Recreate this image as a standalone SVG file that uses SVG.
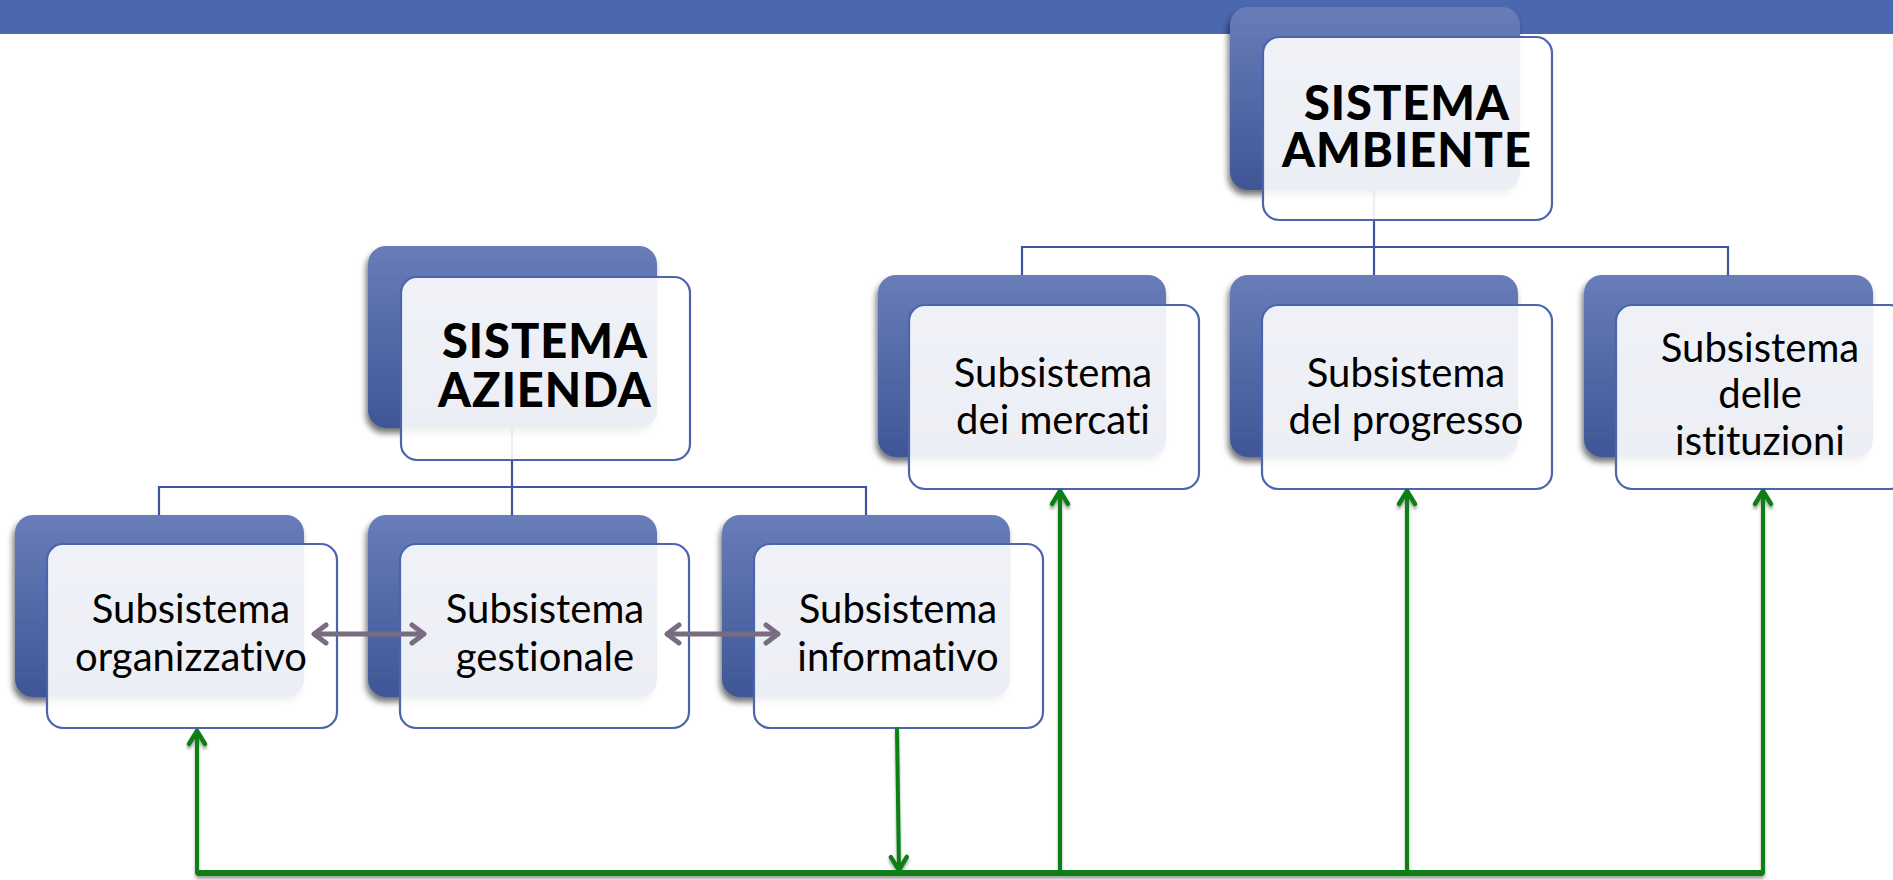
<svg xmlns="http://www.w3.org/2000/svg" width="1893" height="880" viewBox="0 0 1893 880">
<defs>
<linearGradient id="backGrad" x1="0" y1="0" x2="0" y2="1">
<stop offset="0" stop-color="#687db9"/>
<stop offset="1" stop-color="#3f5696"/>
</linearGradient>
<filter id="sh" x="-20%" y="-20%" width="140%" height="150%">
<feGaussianBlur in="SourceAlpha" stdDeviation="3"/>
<feOffset dx="-2" dy="5" result="b"/>
<feComponentTransfer><feFuncA type="linear" slope="0.55"/></feComponentTransfer>
<feMerge><feMergeNode/><feMergeNode in="SourceGraphic"/></feMerge>
</filter>
<filter id="lsh" x="-5%" y="-5%" width="110%" height="110%">
<feGaussianBlur in="SourceAlpha" stdDeviation="1.5"/>
<feOffset dx="0" dy="3"/>
<feComponentTransfer><feFuncA type="linear" slope="0.35"/></feComponentTransfer>
<feMerge><feMergeNode/><feMergeNode in="SourceGraphic"/></feMerge>
</filter>
<marker id="gray" markerUnits="userSpaceOnUse" viewBox="-16 -12 20 24" refX="0" refY="0" markerWidth="20" markerHeight="24" orient="auto-start-reverse" overflow="visible">
<path d="M-12 -9 L0 0 L-12 9" fill="none" stroke="#7a6c80" stroke-width="5" stroke-linecap="round" stroke-linejoin="round"/>
</marker>
<marker id="green" markerUnits="userSpaceOnUse" viewBox="-16 -12 20 24" refX="0" refY="0" markerWidth="20" markerHeight="24" orient="auto" overflow="visible">
<path d="M-13 -8 L0 0 L-13 8" fill="none" stroke="#0b7f12" stroke-width="4.5" stroke-linecap="round" stroke-linejoin="round"/>
</marker>
</defs>
<style>
.back{fill:url(#backGrad);filter:url(#sh)}
.front{fill:#ffffff;fill-opacity:0.9;stroke:#4a64ad;stroke-width:2.2}
.conn{fill:none;stroke:#3c55a0;stroke-width:2.2}
.t{font-family:Lato,"Liberation Sans",sans-serif;font-size:40px;fill:#000;text-anchor:middle;font-variant-ligatures:none;font-feature-settings:"liga" 0}
.h{font-family:Lato,"Liberation Sans",sans-serif;font-size:47px;font-weight:900;fill:#000;text-anchor:middle;letter-spacing:1px;font-variant-ligatures:none}
.gline{fill:none;stroke:#0b7f12;stroke-width:4;stroke-linecap:round}
.garr{fill:none;stroke:#7a6c80;stroke-width:5}
</style>
<rect x="0" y="0" width="1893" height="34" fill="#4a67b0"/>

<g id="connectors">
<path class="conn" d="M1374 190 V247 M1022 275 V247 H1728 V275 M1374 247 V275"/>
<path class="conn" d="M512 428 V487 M159 515 V487 H866 V515 M512 487 V515"/>
</g>

<g id="sistema-ambiente">
<rect class="back" x="1230" y="7" width="290" height="183" rx="18"/>
<rect class="front" x="1263" y="37" width="289" height="183" rx="16"/>
<text class="h"><tspan x="1407" y="120">SISTEMA</tspan><tspan x="1407" y="167">AMBIENTE</tspan></text>
</g>

<g id="sistema-azienda">
<rect class="back" x="368" y="246" width="289" height="182" rx="18"/>
<rect class="front" x="401" y="277" width="289" height="183" rx="16"/>
<text class="h"><tspan x="545" y="358">SISTEMA</tspan><tspan x="545" y="407">AZIENDA</tspan></text>
</g>

<g id="subsistema-mercati">
<rect class="back" x="878" y="275" width="288" height="182" rx="18"/>
<rect class="front" x="909" y="305" width="290" height="184" rx="16"/>
<text class="t"><tspan x="1053" y="387">Subsistema</tspan><tspan x="1053" y="434">dei mercati</tspan></text>
</g>

<g id="subsistema-progresso">
<rect class="back" x="1230" y="275" width="288" height="182" rx="18"/>
<rect class="front" x="1262" y="305" width="290" height="184" rx="16"/>
<text class="t"><tspan x="1406" y="387">Subsistema</tspan><tspan x="1406" y="434">del progresso</tspan></text>
</g>

<g id="subsistema-istituzioni">
<rect class="back" x="1584" y="275" width="289" height="182" rx="18"/>
<rect class="front" x="1616" y="305" width="290" height="184" rx="16"/>
<text class="t"><tspan x="1760" y="362">Subsistema</tspan><tspan x="1760" y="408">delle</tspan><tspan x="1760" y="455">istituzioni</tspan></text>
</g>

<g id="subsistema-organizzativo">
<rect class="back" x="15" y="515" width="289" height="182" rx="18"/>
<rect class="front" x="47" y="544" width="290" height="184" rx="16"/>
<text class="t"><tspan x="191" y="623">Subsistema</tspan><tspan x="191" y="671">organizzativo</tspan></text>
</g>

<g id="subsistema-gestionale">
<rect class="back" x="368" y="515" width="289" height="182" rx="18"/>
<rect class="front" x="400" y="544" width="289" height="184" rx="16"/>
<text class="t"><tspan x="545" y="623">Subsistema</tspan><tspan x="545" y="671">gestionale</tspan></text>
</g>

<g id="subsistema-informativo">
<rect class="back" x="722" y="515" width="288" height="182" rx="18"/>
<rect class="front" x="754" y="544" width="289" height="184" rx="16"/>
<text class="t"><tspan x="898" y="623">Subsistema</tspan><tspan x="898" y="671">informativo</tspan></text>
</g>

<g id="arrows">
<path class="garr" d="M314 634 H424" marker-start="url(#gray)" marker-end="url(#gray)"/>
<path class="garr" d="M667 634 H778" marker-start="url(#gray)" marker-end="url(#gray)"/>
<g filter="url(#lsh)">
<path d="M197 873 H1763" fill="none" stroke="#0b7f12" stroke-width="6"/>
<path class="gline" d="M197 873 V731" marker-end="url(#green)"/>
<path class="gline" d="M1060 873 V491" marker-end="url(#green)"/>
<path class="gline" d="M1407 873 V491" marker-end="url(#green)"/>
<path class="gline" d="M1763 873 V491" marker-end="url(#green)"/>
<path class="gline" d="M897 729 L899 870" marker-end="url(#green)"/>
</g>
</g>
</svg>
